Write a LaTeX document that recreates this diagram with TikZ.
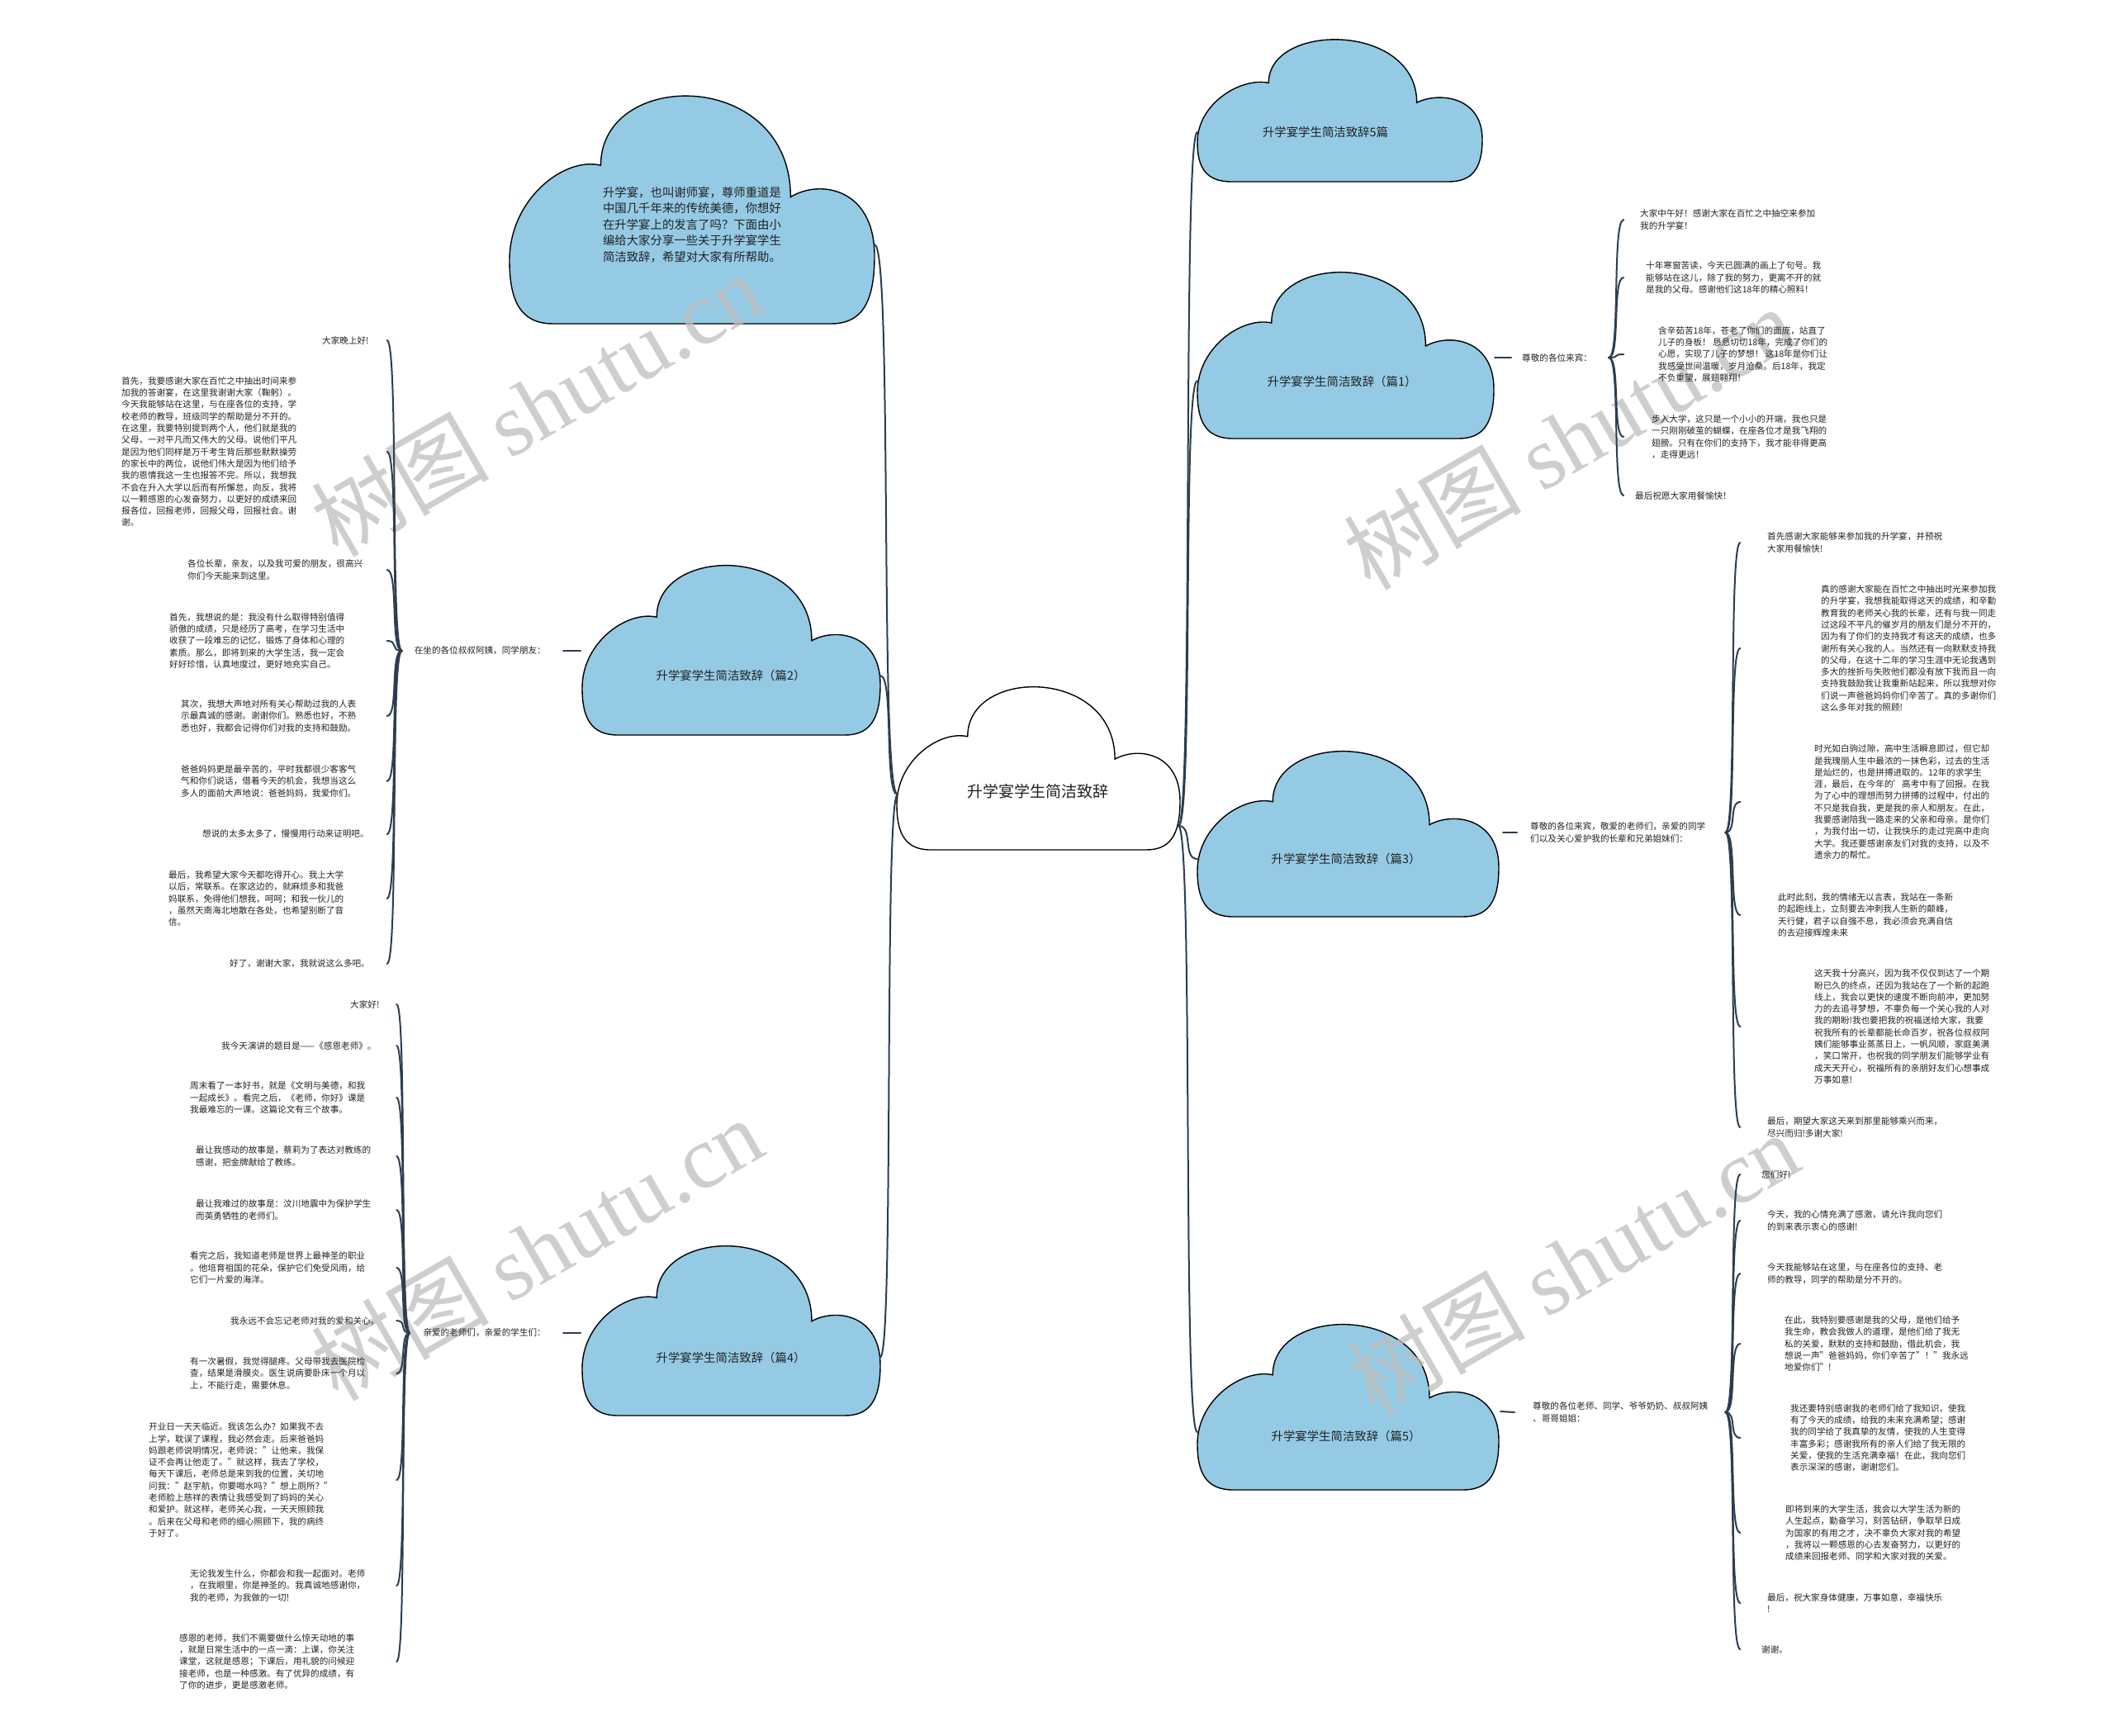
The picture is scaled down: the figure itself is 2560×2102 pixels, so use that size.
\documentclass[tikz,border=0pt]{standalone}
\usepackage{fontspec}
\setmainfont{Noto Sans CJK SC}
\newfontfamily\wmserif{Liberation Serif}
\usetikzlibrary{calc}
\definecolor{cloudblue}{HTML}{94CAE4}
\definecolor{linkcol}{HTML}{2C3E50}
\definecolor{txtcol}{HTML}{222222}
\definecolor{wmcol}{HTML}{BEBEBE}
\tikzset{
  leaf/.style={font={\fontsize{10.6}{14.3}\selectfont}, align=left, inner sep=0pt, text=txtcol},
  midlabel/.style={font={\fontsize{10.6}{14.3}\selectfont}, align=left, inner sep=0pt, text=txtcol},
  cloudtext/.style={font={\fontsize{14.4}{19.4}\selectfont}, align=center, inner sep=0pt, text=txtcol},
  linkline/.style={draw=linkcol, line width=2pt, line cap=round},
  cloudedge/.style={draw=black, line width=1.4pt},
  watermark/.style={text=wmcol, opacity=0.75, font={\fontsize{108}{108}\selectfont}, rotate=30, inner sep=0pt}
}
\newcommand{\cloudshape}[5]{%
  \draw[cloudedge, fill=#5, shift={(#1,#2)}, xscale=#3, yscale=#4]
  (0.12,1) .. controls (0.03,1) and (0,0.9) .. (0,0.72)
  .. controls (0,0.45) and (0.15,0.26) .. (0.25,0.3)
  .. controls (0.25,-0.13) and (0.77,-0.13) .. (0.77,0.44)
  .. controls (0.85,0.36) and (1,0.4) .. (1,0.7)
  .. controls (1,0.92) and (0.96,1) .. (0.88,1)
  -- cycle;}
\newcommand{\bconn}[2]{%
  \draw[linkline] (#1) .. controls ($(#1)!0.8!(#1 -| #2)$) and ($(#1 |- #2)!0.2!(#2)$) .. (#2);}
\begin{document}
\begin{tikzpicture}[x=1pt, y=-1pt]
\fill[white] (0,0) rectangle (2560,2102);
\useasboundingbox (0,0) rectangle (2560,2102);

% ---------- clouds ----------
\cloudshape{617}{118}{442}{274}{cloudblue}
\cloudshape{1086}{833}{343}{196}{white}
\cloudshape{1450}{49}{345}{171}{cloudblue}
\cloudshape{1450}{331}{359}{200}{cloudblue}
\cloudshape{705}{686}{361}{204}{cloudblue}
\cloudshape{1450}{911}{365}{199}{cloudblue}
\cloudshape{705}{1510}{361}{204}{cloudblue}
\cloudshape{1450}{1605}{365}{199}{cloudblue}

% ---------- watermarks ----------
\node[watermark] (wm1) at (650,490) {树图 {\wmserif shutu.cn}};
\node[watermark] (wm2) at (1900,530) {树图 {\wmserif shutu.cn}};
\node[watermark] (wm3) at (650,1512) {树图 {\wmserif shutu.cn}};
\node[watermark] (wm4) at (1905,1530) {树图 {\wmserif shutu.cn}};

% ---------- cloud texts ----------
\node[cloudtext] (intro) at (838,272) {升学宴，也叫谢师宴，尊师重道是\\中国几千年来的传统美德，你想好\\在升学宴上的发言了吗？下面由小\\编给大家分享一些关于升学宴学生\\简洁致辞，希望对大家有所帮助。};
\node[cloudtext, font={\fontsize{19}{22}\selectfont}] (root) at (1257,958) {升学宴学生简洁致辞};
\node[cloudtext] (top5) at (1605,160) {升学宴学生简洁致辞5篇};
\node[cloudtext] (p1) at (1625,462) {升学宴学生简洁致辞（篇1）};
\node[cloudtext] (p2) at (885,818) {升学宴学生简洁致辞（篇2）};
\node[cloudtext] (p3) at (1630,1040) {升学宴学生简洁致辞（篇3）};
\node[cloudtext] (p4) at (885,1644) {升学宴学生简洁致辞（篇4）};
\node[cloudtext] (p5) at (1630,1739) {升学宴学生简洁致辞（篇5）};

% ---------- cloud attach points ----------
\coordinate (CL) at (1087,962);
\coordinate (CR) at (1427,1000);
\coordinate (IR) at (1059,296);
\coordinate (P2R) at (1066,818);
\coordinate (P4R) at (1066,1643);
\coordinate (T5L) at (1450,160);
\coordinate (P1L) at (1450,461);
\coordinate (P3L) at (1450,1040);
\coordinate (P5L) at (1450,1734);
\coordinate (P2d) at (703,788);
\coordinate (P4d) at (703,1614);
\coordinate (P1d) at (1810,433);
\coordinate (P3d) at (1820,1008);
\coordinate (P5d) at (1817,1709);

\bconn{CL}{IR}
\bconn{CL}{P2R}
\bconn{CL}{P4R}
\bconn{CR}{T5L}
\bconn{CR}{P1L}
\bconn{CR}{P3L}
\bconn{CR}{P5L}

% ---------- middle labels ----------
\node[midlabel, anchor=east] (LB2) at (661,788) {在坐的各位叔叔阿姨，同学朋友：};
\node[midlabel, anchor=east] (LB4) at (661,1614) {亲爱的老师们，亲爱的学生们：};
\node[midlabel, anchor=west] (LB1) at (1843,433) {尊敬的各位来宾：};
\node[midlabel, anchor=west] (LB3) at (1853,1008) {尊敬的各位来宾，敬爱的老师们，亲爱的同学\\们以及关心爱护我的长辈和兄弟姐妹们：};
\node[midlabel, anchor=west] (LB5) at (1856,1710) {尊敬的各位老师、同学、爷爷奶奶、叔叔阿姨\\、哥哥姐姐：};

\draw[linkline] (P2d) -- ([xshift=21pt]LB2.east);
\draw[linkline] (P4d) -- ([xshift=21pt]LB4.east);
\draw[linkline] (P1d) -- ([xshift=-13pt]LB1.west);
\draw[linkline] (P3d) -- ([xshift=-16pt]LB3.west);
\draw[linkline] (P5d) -- ([xshift=-22pt]LB5.west);

\coordinate (o2) at ([xshift=-15pt]LB2.west);
\coordinate (o4) at ([xshift=-16pt]LB4.west);
\coordinate (o1) at ([xshift=20pt]LB1.east);
\coordinate (o3) at ([xshift=24pt]LB3.east);
\coordinate (o5) at ([xshift=21pt]LB5.east);
\coordinate (e2) at ([xshift=-18pt]o2);
\coordinate (e4) at ([xshift=-16pt]o4);
\coordinate (e1) at ([xshift=18pt]o1);
\coordinate (e3) at ([xshift=18pt]o3);
\coordinate (e5) at ([xshift=18pt]o5);

% ---------- branch 2 leaves ----------
\node[leaf, anchor=west] (L21) at (390,412) {大家晚上好!};
\node[leaf, anchor=west] (L22) at (147,547) {首先，我要感谢大家在百忙之中抽出时间来参\\加我的答谢宴，在这里我谢谢大家（鞠躬）。\\今天我能够站在这里，与在座各位的支持，学\\校老师的教导，班级同学的帮助是分不开的。\\在这里，我要特别提到两个人，他们就是我的\\父母，一对平凡而又伟大的父母。说他们平凡\\是因为他们同样是万千考生背后那些默默操劳\\的家长中的两位，说他们伟大是因为他们给予\\我的恩情我这一生也报答不完。所以，我想我\\不会在升入大学以后而有所懈怠，向反，我将\\以一颗感恩的心发奋努力，以更好的成绩来回\\报各位，回报老师，回报父母，回报社会。谢\\谢。};
\node[leaf, anchor=west] (L23) at (227,690) {各位长辈，亲友，以及我可爱的朋友，很高兴\\你们今天能来到这里。};
\node[leaf, anchor=west] (L24) at (205,776) {首先，我想说的是：我没有什么取得特别值得\\骄傲的成绩，只是经历了高考，在学习生活中\\收获了一段难忘的记忆，锻炼了身体和心理的\\素质。那么，即将到来的大学生活，我一定会\\好好珍惜，认真地度过，更好地充实自己。};
\node[leaf, anchor=west] (L25) at (219,867) {其次，我想大声地对所有关心帮助过我的人表\\示最真诚的感谢。谢谢你们。熟悉也好，不熟\\悉也好，我都会记得你们对我的支持和鼓励。};
\node[leaf, anchor=west] (L26) at (219,946) {爸爸妈妈更是最辛苦的，平时我都很少客客气\\气和你们说话，借着今天的机会，我想当这么\\多人的面前大声地说：爸爸妈妈，我爱你们。};
\node[leaf, anchor=west] (L27) at (245,1010) {想说的太多太多了，慢慢用行动来证明吧。};
\node[leaf, anchor=west] (L28) at (204,1088) {最后，我希望大家今天都吃得开心。我上大学\\以后，常联系。在家这边的，就麻烦多和我爸\\妈联系，免得他们想我，呵呵；和我一伙儿的\\，虽然天南海北地散在各处，也希望别断了音\\信。};
\node[leaf, anchor=west] (L29) at (278,1167) {好了，谢谢大家，我就说这么多吧。};
\foreach \n in {21,22,23,24,25,26,27,28,29} {
  \coordinate (t\n) at (L\n.east -| e2);
  \bconn{o2}{t\n}
}

% ---------- branch 4 leaves ----------
\node[leaf, anchor=west] (L41) at (424,1216) {大家好!};
\node[leaf, anchor=west] (L42) at (268,1266) {我今天演讲的题目是——《感恩老师》。};
\node[leaf, anchor=west] (L43) at (230,1329) {周末看了一本好书，就是《文明与美德，和我\\一起成长》。看完之后，《老师，你好》课是\\我最难忘的一课。这篇论文有三个故事。};
\node[leaf, anchor=west] (L44) at (237,1400) {最让我感动的故事是，蔡莉为了表达对教练的\\感谢，把金牌献给了教练。};
\node[leaf, anchor=west] (L45) at (237,1465) {最让我难过的故事是：汶川地震中为保护学生\\而英勇牺牲的老师们。};
\node[leaf, anchor=west] (L46) at (230,1535) {看完之后，我知道老师是世界上最神圣的职业\\。他培育祖国的花朵，保护它们免受风雨，给\\它们一片爱的海洋。};
\node[leaf, anchor=west] (L47) at (279,1599) {我永远不会忘记老师对我的爱和关心。};
\node[leaf, anchor=west] (L48) at (230,1663) {有一次暑假，我觉得腿疼。父母带我去医院检\\查，结果是滑膜炎。医生说病要卧床一个月以\\上，不能行走，需要休息。};
\node[leaf, anchor=west] (L49) at (180,1792) {开业日一天天临近。我该怎么办？如果我不去\\上学，耽误了课程，我必然会走。后来爸爸妈\\妈跟老师说明情况，老师说："让他来，我保\\证不会再让他走了。"就这样，我去了学校，\\每天下课后，老师总是来到我的位置，关切地\\问我："赵宇航，你要喝水吗？"想上厕所？"\\老师脸上慈祥的表情让我感受到了妈妈的关心\\和爱护。就这样，老师关心我，一天天照顾我\\。后来在父母和老师的细心照顾下，我的病终\\于好了。};
\node[leaf, anchor=west] (L410) at (230,1920) {无论我发生什么，你都会和我一起面对。老师\\，在我眼里，你是神圣的。我真诚地感谢你，\\我的老师，为我做的一切!};
\node[leaf, anchor=west] (L411) at (217,2012) {感恩的老师，我们不需要做什么惊天动地的事\\，就是日常生活中的一点一滴：上课，你关注\\课堂，这就是感恩；下课后，用礼貌的问候迎\\接老师，也是一种感激。有了优异的成绩，有\\了你的进步，更是感激老师。};
\foreach \n in {41,42,43,44,45,46,47,48,49,410,411} {
  \coordinate (t\n) at (L\n.east -| e4);
  \bconn{o4}{t\n}
}

% ---------- branch 1 leaves ----------
\node[leaf, anchor=west] (L11) at (1986,266) {大家中午好！感谢大家在百忙之中抽空来参加\\我的升学宴！};
\node[leaf, anchor=west] (L12) at (1993,336) {十年寒窗苦读，今天已圆满的画上了句号。我\\能够站在这儿，除了我的努力，更离不开的就\\是我的父母。感谢他们这18年的精心照料！};
\node[leaf, anchor=west] (L13) at (2008,429) {含辛茹苦18年，苍老了你们的面庞，站直了\\儿子的身板！ 恳恳切切18年，完成了你们的\\心愿，实现了儿子的梦想！ 这18年是你们让\\我感受世间温暖，岁月沧桑。后18年，我定\\不负重望，展翅翱翔！};
\node[leaf, anchor=west] (L14) at (2000,529) {步入大学，这只是一个小小的开端，我也只是\\一只刚刚破茧的蝴蝶，在座各位才是我飞翔的\\翅膀。只有在你们的支持下，我才能非得更高\\，走得更远！};
\node[leaf, anchor=west] (L15) at (1980,600) {最后祝愿大家用餐愉快！};
\foreach \n in {11,12,13,14,15} {
  \coordinate (t\n) at (L\n.west -| e1);
  \bconn{o1}{t\n}
}

% ---------- branch 3 leaves ----------
\node[leaf, anchor=west] (L31) at (2140,657) {首先感谢大家能够来参加我的升学宴，并预祝\\大家用餐愉快!};
\node[leaf, anchor=west] (L32) at (2205,785) {真的感谢大家能在百忙之中抽出时光来参加我\\的升学宴，我想我能取得这天的成绩，和辛勤\\教育我的老师关心我的长辈，还有与我一同走\\过这段不平凡的催岁月的朋友们是分不开的，\\因为有了你们的支持我才有这天的成绩，也多\\谢所有关心我的人。当然还有一向默默支持我\\的父母，在这十二年的学习生涯中无论我遇到\\多大的挫折与失败他们都没有放下我而且一向\\支持我鼓励我让我重新站起来，所以我想对你\\们说一声爸爸妈妈你们辛苦了。真的多谢你们\\这么多年对我的照顾!};
\node[leaf, anchor=west] (L33) at (2197,971) {时光如白驹过隙，高中生活瞬息即过，但它却\\是我瑰丽人生中最浓的一抹色彩，过去的生活\\是灿烂的，也是拼搏进取的。12年的求学生\\涯，最后，在今年的'高考中有了回报。在我\\为了心中的理想而努力拼搏的过程中，付出的\\不只是我自我，更是我的亲人和朋友。在此，\\我要感谢陪我一路走来的父亲和母亲。是你们\\，为我付出一切，让我快乐的走过完高中走向\\大学。我还要感谢亲友们对我的支持，以及不\\遗余力的帮忙。};
\node[leaf, anchor=west] (L34) at (2153,1108) {此时此刻，我的情绪无以言表，我站在一条新\\的起跑线上，立刻要去冲刺我人生新的颠峰，\\天行健，君子以自强不息，我必须会充满自信\\的去迎接辉煌未来};
\node[leaf, anchor=west] (L35) at (2197,1243) {这天我十分高兴，因为我不仅仅到达了一个期\\盼已久的终点，还因为我站在了一个新的起跑\\线上，我会以更快的速度不断向前冲，更加努\\力的去追寻梦想，不辜负每一个关心我的人对\\我的期盼!我也要把我的祝福送给大家，我要\\祝我所有的长辈都能长命百岁，祝各位叔叔阿\\姨们能够事业蒸蒸日上，一帆风顺，家庭美满\\，笑口常开，也祝我的同学朋友们能够学业有\\成天天开心，祝福所有的亲朋好友们心想事成\\万事如意!};
\node[leaf, anchor=west] (L36) at (2140,1365) {最后，期望大家这天来到那里能够乘兴而来，\\尽兴而归!多谢大家!};
\foreach \n in {31,32,33,34,35,36} {
  \coordinate (t\n) at (L\n.west -| e3);
  \bconn{o3}{t\n}
}

% ---------- branch 5 leaves ----------
\node[leaf, anchor=west] (L51) at (2133,1422) {您们好!};
\node[leaf, anchor=west] (L52) at (2140,1478) {今天，我的心情充满了感激，请允许我向您们\\的到来表示衷心的感谢!};
\node[leaf, anchor=west] (L53) at (2140,1542) {今天我能够站在这里，与在座各位的支持、老\\师的教导，同学的帮助是分不开的。};
\node[leaf, anchor=west] (L54) at (2161,1627) {在此，我特别要感谢是我的父母，是他们给予\\我生命，教会我做人的道理，是他们给了我无\\私的关爱，默默的支持和鼓励，借此机会，我\\想说一声"爸爸妈妈，你们辛苦了"！"我永远\\地爱你们"!};
\node[leaf, anchor=west] (L55) at (2168,1741) {我还要特别感谢我的老师们给了我知识，使我\\有了今天的成绩，给我的未来充满希望；感谢\\我的同学给了我真挚的友情，使我的人生变得\\丰富多彩；感谢我所有的亲人们给了我无限的\\关爱，使我的生活充满幸福！在此，我向您们\\表示深深的感谢，谢谢您们。};
\node[leaf, anchor=west] (L56) at (2162,1856) {即将到来的大学生活，我会以大学生活为新的\\人生起点，勤奋学习，刻苦钻研，争取早日成\\为国家的有用之才，决不辜负大家对我的希望\\，我将以一颗感恩的心去发奋努力，以更好的\\成绩来回报老师、同学和大家对我的关爱。};
\node[leaf, anchor=west] (L57) at (2140,1941) {最后，祝大家身体健康，万事如意，幸福快乐\\!};
\node[leaf, anchor=west] (L58) at (2133,1997) {谢谢。};
\foreach \n in {51,52,53,54,55,56,57,58} {
  \coordinate (t\n) at (L\n.west -| e5);
  \bconn{o5}{t\n}
}
\end{tikzpicture}
\end{document}
